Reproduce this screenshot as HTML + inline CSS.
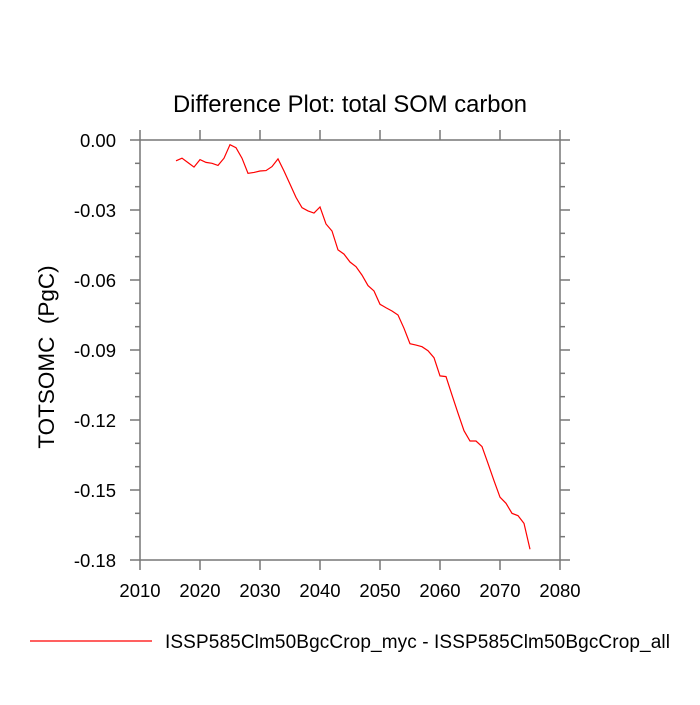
<!DOCTYPE html>
<html><head><meta charset="utf-8"><style>
body{margin:0;background:#fff}
svg text{font-family:"Liberation Sans",sans-serif;fill:#000}
</style></head><body>
<svg id="chart" width="700" height="700" viewBox="0 0 700 700">
<text x="350" y="112" font-size="23.8" text-anchor="middle">Difference Plot: total SOM carbon</text>
<text transform="translate(54,357) rotate(-90)" font-size="22.5" text-anchor="middle" style="white-space:pre">TOTSOMC  (PgC)</text>
<g id="axes"></g>
<path id="series" fill="none" stroke="#ff0000" stroke-width="1.2"/>
<line x1="30" y1="641" x2="152" y2="641" stroke="#ff0000" stroke-width="1.2"/>
<text x="165" y="648" font-size="19" textLength="505">ISSP585Clm50BgcCrop_myc - ISSP585Clm50BgcCrop_all</text>
</svg>
<script>
const years=[2016,2017,2018,2019,2020,2021,2022,2023,2024,2025,2026,2027,2028,2029,2030,2031,2032,2033,2034,2035,2036,2037,2038,2039,2040,2041,2042,2043,2044,2045,2046,2047,2048,2049,2050,2051,2052,2053,2054,2055,2056,2057,2058,2059,2060,2061,2062,2063,2064,2065,2066,2067,2068,2069,2070,2071,2072,2073,2074,2075];
const values=[-0.0089,-0.0078,-0.0097,-0.0116,-0.0084,-0.0096,-0.0100,-0.0109,-0.0078,-0.0020,-0.0033,-0.0078,-0.0143,-0.0139,-0.0133,-0.0131,-0.0114,-0.0081,-0.0133,-0.0189,-0.0246,-0.0290,-0.0304,-0.0313,-0.0287,-0.0360,-0.0390,-0.0471,-0.0489,-0.0523,-0.0543,-0.0579,-0.0624,-0.0647,-0.0704,-0.0719,-0.0733,-0.0750,-0.0807,-0.0873,-0.0879,-0.0886,-0.0903,-0.0933,-0.1011,-0.1014,-0.1093,-0.1171,-0.1246,-0.1290,-0.1290,-0.1314,-0.1386,-0.1460,-0.1531,-0.1557,-0.1600,-0.1610,-0.1643,-0.1754];
const xTicks=[2010,2020,2030,2040,2050,2060,2070,2080];
const yTicks=[0,-0.03,-0.06,-0.09,-0.12,-0.15,-0.18];
const yTickLabels=["0.00","-0.03","-0.06","-0.09","-0.12","-0.15","-0.18"];
const X0=140,X1=560,Y0=140,Y1=560;
const xs=v=>X0+(v-2010)/70*(X1-X0);
const ys=v=>Y0+(0-v)/0.18*(Y1-Y0);
const NS='http://www.w3.org/2000/svg';
const g=document.getElementById('axes');
function ln(x1,y1,x2,y2,name){const l=document.createElementNS(NS,'line');
l.setAttribute('x1',x1);l.setAttribute('y1',y1);l.setAttribute('x2',x2);l.setAttribute('y2',y2);
l.setAttribute('stroke','#777');l.setAttribute('stroke-width','1.5');


g.appendChild(l);}
const fr=document.createElementNS(NS,'rect');
fr.setAttribute('x',X0);fr.setAttribute('y',Y0);fr.setAttribute('width',X1-X0);fr.setAttribute('height',Y1-Y0);
fr.setAttribute('fill','none');fr.setAttribute('stroke','#777');fr.setAttribute('stroke-width','1.5');


g.appendChild(fr);
xTicks.forEach(t=>{const x=xs(t);ln(x,Y1,x,Y1+10,'x-tick');ln(x,Y0,x,Y0-10,'x-tick-top');
const tx=document.createElementNS(NS,'text');tx.setAttribute('x',x);tx.setAttribute('y',Y1+37);
tx.setAttribute('font-size','18.5');tx.setAttribute('text-anchor','middle');tx.textContent=t;


g.appendChild(tx);});
yTicks.forEach((t,i)=>{const y=ys(t);ln(X0-10,y,X0,y,'y-tick');ln(X1,y,X1+10,y,'y-tick-right');
const tx=document.createElementNS(NS,'text');tx.setAttribute('x',X0-24);tx.setAttribute('y',y+7);
tx.setAttribute('font-size','18.5');tx.setAttribute('text-anchor','end');tx.textContent=yTickLabels[i];


g.appendChild(tx);
if(i<yTicks.length-1){for(let k=1;k<3;k++){const ym=ys(t-0.01*k);ln(X0-5,ym,X0,ym,'y-minor-tick');ln(X1,ym,X1+5,ym,'y-minor-tick-right');}}});
let d='';years.forEach((yr,i)=>{d+=(i?'L':'M')+xs(yr).toFixed(2)+','+ys(values[i]).toFixed(2);});
document.getElementById('series').setAttribute('d',d);
</script>
</body></html>
